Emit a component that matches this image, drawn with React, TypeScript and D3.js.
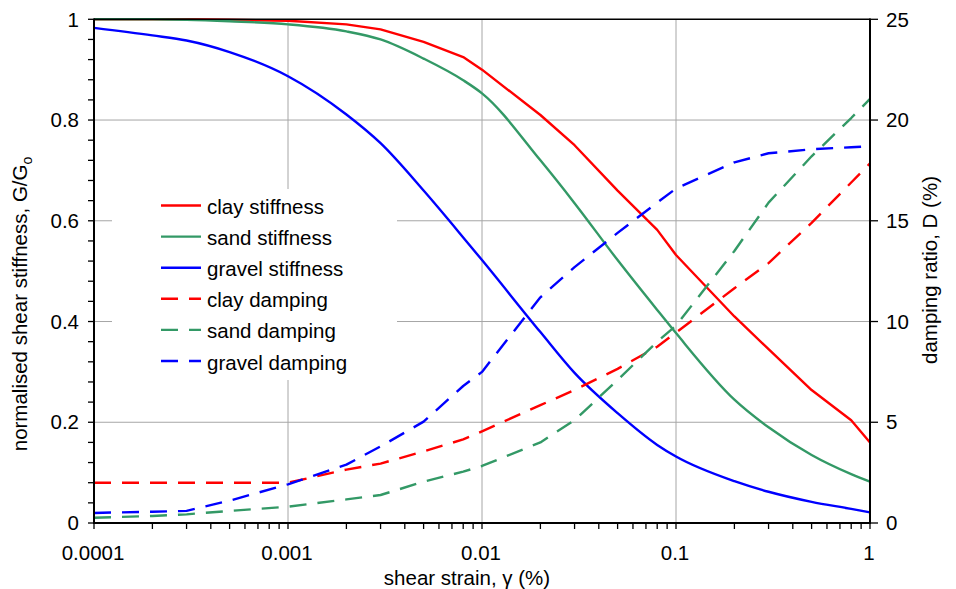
import React from 'react';
import * as d3 from 'd3';

// Shear strain (%) at which each curve is tabulated
const strain = [0.0001, 0.0002, 0.0003, 0.0005, 0.001, 0.002, 0.003, 0.005, 0.008, 0.01, 0.02, 0.03, 0.05, 0.08, 0.1, 0.2, 0.3, 0.5, 0.8, 1];

// Normalised shear stiffness G/Go
const clayStiffness = [1.0, 1.0, 1.0, 0.999, 0.997, 0.99, 0.98, 0.955, 0.925, 0.9, 0.81, 0.75, 0.66, 0.582, 0.532, 0.41, 0.345, 0.264, 0.204, 0.16];
const sandStiffness = [1.0, 1.0, 0.999, 0.996, 0.99, 0.976, 0.96, 0.922, 0.879, 0.853, 0.72, 0.635, 0.522, 0.423, 0.377, 0.245, 0.19, 0.135, 0.097, 0.082];
const gravelStiffness = [0.983, 0.968, 0.958, 0.935, 0.887, 0.811, 0.754, 0.66, 0.567, 0.522, 0.379, 0.298, 0.218, 0.155, 0.132, 0.083, 0.062, 0.042, 0.028, 0.021];

// Damping ratio D (%)
const clayDamping = [2.0, 2.0, 2.0, 2.0, 2.0, 2.65, 2.95, 3.55, 4.15, 4.55, 5.85, 6.6, 7.65, 8.75, 9.45, 11.65, 12.9, 14.9, 16.9, 17.85];
const sandDamping = [0.26, 0.35, 0.43, 0.6, 0.81, 1.17, 1.39, 2.05, 2.55, 2.83, 4.0, 5.1, 7.1, 9.0, 9.8, 13.5, 15.9, 18.2, 20.1, 21.05];
const gravelDamping = [0.5, 0.56, 0.6, 1.11, 1.92, 2.9, 3.8, 5.03, 6.8, 7.5, 11.2, 12.7, 14.4, 15.9, 16.6, 17.9, 18.35, 18.55, 18.65, 18.7];

const stiffnessTicks = [0, 0.2, 0.4, 0.6, 0.8, 1];
const stiffnessTickLabels = ['0', '0.2', '0.4', '0.6', '0.8', '1'];
const dampingTicks = [0, 5, 10, 15, 20, 25];
const strainTicks = [0.0001, 0.001, 0.01, 0.1, 1];
const strainTickLabels = ['0.0001', '0.001', '0.01', '0.1', '1'];

const RED = '#ff0000';
const GREEN = '#339966';
const BLUE = '#0000ff';
const FONT = '"Liberation Sans", Arial, Helvetica, sans-serif';

type Series = { name: string; values: number[]; color: string; axis: 'G' | 'D'; dashed: boolean; smooth: boolean };

const series: Series[] = [
  { name: 'clay stiffness', values: clayStiffness, color: RED, axis: 'G', dashed: false, smooth: false },
  { name: 'sand stiffness', values: sandStiffness, color: GREEN, axis: 'G', dashed: false, smooth: true },
  { name: 'gravel stiffness', values: gravelStiffness, color: BLUE, axis: 'G', dashed: false, smooth: true },
  { name: 'clay damping', values: clayDamping, color: RED, axis: 'D', dashed: true, smooth: false },
  { name: 'sand damping', values: sandDamping, color: GREEN, axis: 'D', dashed: true, smooth: false },
  { name: 'gravel damping', values: gravelDamping, color: BLUE, axis: 'D', dashed: true, smooth: false },
];

export default function App() {
  const W = 956;
  const H = 589;
  const left = 94;
  const right = 870;
  const top = 19.3;
  const bottom = 523;

  const x = d3.scaleLog().domain([0.0001, 1]).range([left, right]);
  const yG = d3.scaleLinear().domain([0, 1]).range([bottom, top]);
  const yD = d3.scaleLinear().domain([0, 25]).range([bottom, top]);

  const minorStrain: number[] = [];
  for (let e = -4; e < 0; e++) {
    for (let k = 2; k <= 9; k++) minorStrain.push(k * Math.pow(10, e));
  }
  const minorG = d3.range(0, 1.0001, 0.04);

  const dash = '17,11';
  const lw = 2.4;

  const legendX1 = 161;
  const legendX2 = 201;
  const legendY0 = 205.5;
  const legendStep = 31.1;

  return (
    <svg
      width={W}
      height={H}
      viewBox={`0 0 ${W} ${H}`}
      style={{ position: 'absolute', left: 0, top: 0, background: '#fff' }}
      fontFamily={FONT}
    >
      <rect x={0} y={0} width={W} height={H} fill="#fff" />

      {/* gridlines */}
      <g stroke="#a6a6a6" strokeWidth={1}>
        {stiffnessTicks.slice(1, -1).map((t) => (
          <line key={`hg${t}`} x1={left} x2={right} y1={yG(t)} y2={yG(t)} />
        ))}
        {strainTicks.slice(1, -1).map((t) => (
          <line key={`vg${t}`} x1={x(t)} x2={x(t)} y1={top} y2={bottom} />
        ))}
      </g>

      {/* legend background */}
      <rect x={112} y={189} width={285} height={191} fill="#fff" />

      {/* curves */}
      {series.map((s) => {
        const yScale = s.axis === 'G' ? yG : yD;
        const line = d3
          .line<number>()
          .x((_, i) => x(strain[i]))
          .y((d) => yScale(d))
          .curve(s.smooth ? d3.curveMonotoneX : d3.curveLinear);
        return (
          <path
            key={s.name}
            d={line(s.values) || ''}
            fill="none"
            stroke={s.color}
            strokeWidth={lw}
            strokeDasharray={s.dashed ? dash : undefined}
            strokeLinejoin="round"
          />
        );
      })}

      {/* frame and axes */}
      <line x1={left} x2={right} y1={top} y2={top} stroke="#000" strokeWidth={1.5} />
      <line x1={left} x2={left} y1={top - 0.7} y2={bottom + 1} stroke="#000" strokeWidth={2} />
      <line x1={right} x2={right} y1={top - 0.7} y2={bottom + 1} stroke="#000" strokeWidth={2} />
      <line x1={left - 1} x2={right + 1} y1={bottom} y2={bottom} stroke="#000" strokeWidth={2} />

      {/* ticks */}
      <g stroke="#000" strokeWidth={1.3}>
        {minorG.map((t) => (
          <line key={`lt${t}`} x1={left - 6} x2={left} y1={yG(t)} y2={yG(t)} />
        ))}
        {dampingTicks.map((t) => (
          <line key={`rt${t}`} x1={right} x2={right + 8} y1={yD(t)} y2={yD(t)} />
        ))}
        {strainTicks.map((t) => (
          <line key={`bt${t}`} x1={x(t)} x2={x(t)} y1={bottom} y2={bottom + 6} />
        ))}
        {minorStrain.map((t) => (
          <line key={`bm${t}`} x1={x(t)} x2={x(t)} y1={bottom} y2={bottom + 6} />
        ))}
      </g>

      {/* tick labels */}
      <g fontSize={20.5} fill="#000">
        {stiffnessTicks.map((t, i) => (
          <text key={`ll${t}`} x={79} y={yG(t) + 7.2} textAnchor="end">
            {stiffnessTickLabels[i]}
          </text>
        ))}
        {dampingTicks.map((t) => (
          <text key={`rl${t}`} x={886} y={yD(t) + 7.2} textAnchor="start">
            {t}
          </text>
        ))}
        {strainTicks.map((t, i) => (
          <text key={`bl${t}`} x={x(t) - 1} y={560} textAnchor="middle">
            {strainTickLabels[i]}
          </text>
        ))}
      </g>

      {/* axis titles */}
      <g fontSize={20.5} fill="#000">
        <text x={467} y={585} textAnchor="middle">
          shear strain, γ (%)
        </text>
        <text transform="translate(27,304) rotate(-90)" textAnchor="middle">
          normalised shear stiffness, G/G
          <tspan fontSize={14} dy={4.5}>
            o
          </tspan>
        </text>
        <text transform="translate(937,270) rotate(-90)" textAnchor="middle">
          damping ratio, D (%)
        </text>
      </g>

      {/* legend */}
      <g fontSize={20.5} fill="#000">
        {series.map((s, i) => {
          const y = legendY0 + i * legendStep;
          return (
            <g key={`lg${s.name}`}>
              <line
                x1={legendX1}
                x2={legendX2}
                y1={y}
                y2={y}
                stroke={s.color}
                strokeWidth={lw}
                strokeDasharray={s.dashed ? dash : undefined}
              />
              <text x={207} y={y + 8.5}>
                {s.name}
              </text>
            </g>
          );
        })}
      </g>
    </svg>
  );
}
